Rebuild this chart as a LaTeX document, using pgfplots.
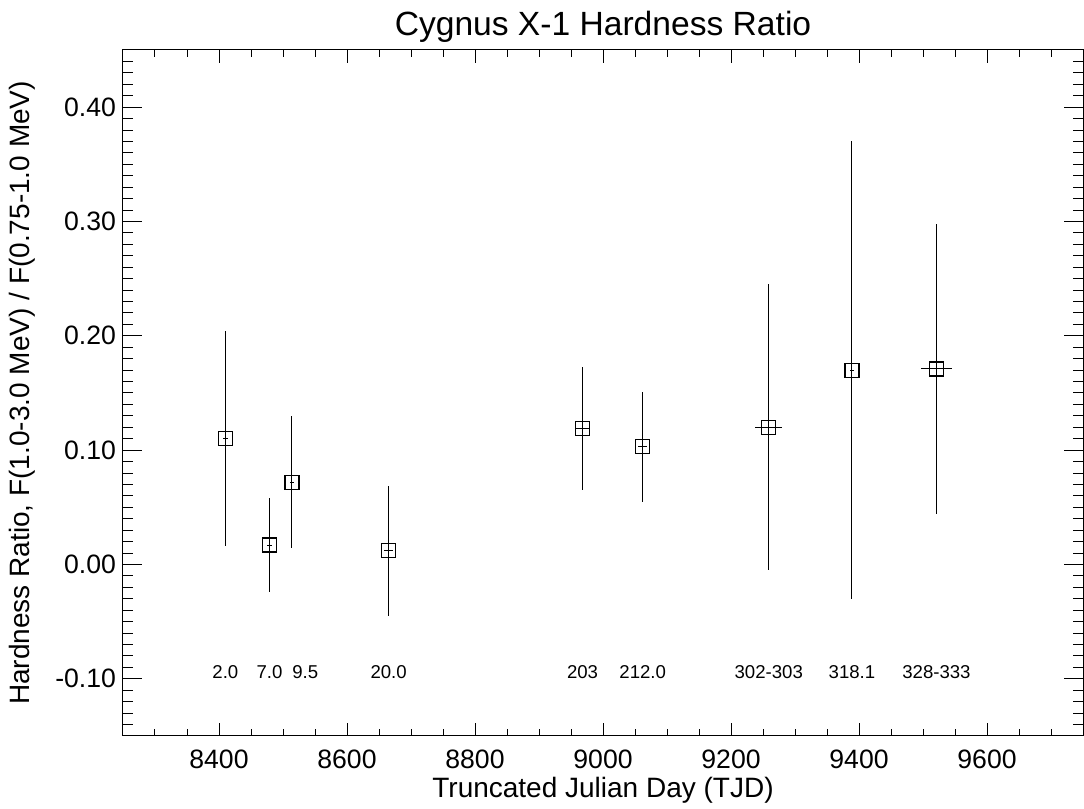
\documentclass[border=0pt]{standalone}
\usepackage{fontspec}
\setmainfont{Liberation Sans}
\usepackage{pgfplots}
\usepackage{pgfplotstable}
\pgfplotsset{compat=1.18}
\pgfplotstableread{
x    y     ex   ey
8410 0.110 4.0  0.094
8479 0.017 3.6  0.041
8514 0.072 3.6  0.058
8665 0.012 7.0  0.057
8968 0.119 11.5 0.054
9062 0.103 7.0  0.048
9259 0.120 21.0 0.125
9389 0.170 3.6  0.200
9521 0.171 24.0 0.127
}\hrdata
\begin{document}
\begin{tikzpicture}
\begin{axis}[name=ax, scale only axis, width=480pt, height=343pt,
  xmin=8250, xmax=9750, ymin=-0.15, ymax=0.45,
  xtick={8400,8600,8800,9000,9200,9400,9600},
  xticklabels={8400,8600,8800,9000,9200,9400,9600},
  minor xtick={8300,8350,8450,8500,8550,8650,8700,8750,8850,8900,8950,9050,9100,9150,9250,9300,9350,9450,9500,9550,9650,9700},
  ytick={-0.1,0,0.1,0.2,0.3,0.4},
  yticklabels={-0.10,0.00,0.10,0.20,0.30,0.40},
  minor ytick={-0.14,-0.13,-0.12,-0.11,-0.09,-0.08,-0.07,-0.06,-0.05,-0.04,-0.03,-0.02,-0.01,0.01,0.02,0.03,0.04,0.05,0.06,0.07,0.08,0.09,0.11,0.12,0.13,0.14,0.15,0.16,0.17,0.18,0.19,0.21,0.22,0.23,0.24,0.25,0.26,0.27,0.28,0.29,0.31,0.32,0.33,0.34,0.35,0.36,0.37,0.38,0.39,0.41,0.42,0.43,0.44},
  tick align=inside,
  xtick style={/pgfplots/major tick length=6.5pt,/pgfplots/minor tick length=3.5pt,line width=0.5pt,black},
  ytick style={/pgfplots/major tick length=9.5pt,/pgfplots/minor tick length=5pt,line width=0.5pt,black},
  axis line style={line width=0.5pt,black},
  ticklabel style={font=\fontsize{13.3}{16}\selectfont},
  xticklabel style={yshift=-3.6pt},
  title={Cygnus X-1 Hardness Ratio},
  title style={font=\fontsize{16.8}{19}\selectfont, at={(axis description cs:0.5,1)}, anchor=base, yshift=1pt},
  xlabel={Truncated Julian Day (TJD)},
  xlabel style={font=\fontsize{14}{16}\selectfont, at={(axis description cs:0.5,0)}, anchor=base, yshift=-31pt},
  ylabel={Hardness Ratio, F(1.0-3.0 MeV) / F(0.75-1.0 MeV)},
  ylabel style={font=\fontsize{14}{16}\selectfont, at={(axis description cs:-0.105,0.5)}, anchor=center},
]
\addplot[black, only marks, mark=square, mark size=3.5pt, mark options={line width=0.6pt},
  error bars/.cd, x dir=both, x explicit, y dir=both, y explicit, error mark=none,
  error bar style={line width=0.5pt, black}]
  table[x=x, y=y, x error=ex, y error=ey]{\hrdata};
\begin{scope}[every node/.style={font=\fontsize{9.3}{11}\selectfont, inner sep=0pt}]
\node[anchor=base] at (axis cs:8410,-0.1) {2.0};
\node[anchor=base] at (axis cs:8479,-0.1) {7.0};
\node[anchor=base west] at (axis cs:8514,-0.1) {9.5};
\node[anchor=base] at (axis cs:8665,-0.1) {20.0};
\node[anchor=base] at (axis cs:8968,-0.1) {203};
\node[anchor=base] at (axis cs:9062,-0.1) {212.0};
\node[anchor=base] at (axis cs:9259,-0.1) {302-303};
\node[anchor=base] at (axis cs:9389,-0.1) {318.1};
\node[anchor=base] at (axis cs:9521,-0.1) {328-333};
\end{scope}
\end{axis}
\pgfresetboundingbox
\path ([xshift=-61.5pt,yshift=-36.5pt]ax.south west) rectangle ([xshift=0.5pt,yshift=25pt]ax.north east);
\end{tikzpicture}
\end{document}
